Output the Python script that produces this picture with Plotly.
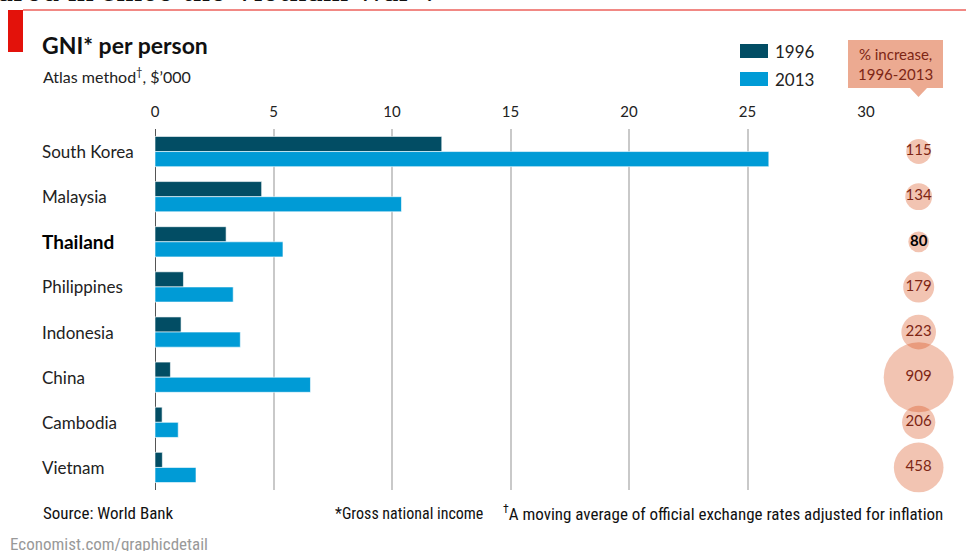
import numpy as np
import plotly.graph_objects as go

# ---------------- data ----------------
countries = ["South Korea", "Malaysia", "Thailand", "Philippines",
             "Indonesia", "China", "Cambodia", "Vietnam"]
years = ["1996", "2013"]
gni_1996 = [12.1, 4.5, 3.0, 1.2, 1.1, 0.65, 0.3, 0.31]
gni_2013 = [25.9, 10.4, 5.4, 3.3, 3.6, 6.56, 0.98, 1.73]
pct_increase = [115, 134, 80, 179, 223, 909, 206, 458]
x_ticks = [0, 5, 10, 15, 20, 25, 30]
highlight = "Thailand"

# ---------------- styling ----------------
W, H = 966, 551
ML, MR, MT, MB = 155, 5, 129, 61
PW, PH = W - ML - MR, H - MT - MB

def px(x):
    return (x - ML) / PW

def py(y):
    return (H - MB - y) / PH

C96 = "#024d64"
C13 = "#009bd6"
SALMON = "rgba(213,66,11,0.45)"
BOXCOL = "#ecaa91"
DARKRED = "#7d2615"
FONT = "Lato, 'Noto Sans', sans-serif"
FOOT = "'Liberation Sans Narrow', 'Arial Narrow', 'Roboto Condensed', Roboto, sans-serif"

fig = go.Figure()
fig.add_trace(go.Bar(y=countries, x=gni_1996, name=years[0], orientation="h",
                     marker=dict(color=C96, line=dict(color="white", width=0.6)),
                     showlegend=False, xaxis="x", yaxis="y"))
fig.add_trace(go.Bar(y=countries, x=gni_2013, name=years[1], orientation="h",
                     marker=dict(color=C13, line=dict(color="white", width=0.6)),
                     showlegend=False, xaxis="x", yaxis="y"))

sizes = 2.32 * np.sqrt(np.array(pct_increase, dtype=float))
texts = [f"<b>{v}</b>" if c == highlight else str(v) for c, v in zip(countries, pct_increase)]
tcolors = ["#000000" if c == highlight else DARKRED for c in countries]
fig.add_trace(go.Scatter(x=[0] * len(countries), y=countries, mode="markers+text",
                         marker=dict(size=sizes, sizemode="diameter", color=SALMON,
                                     line=dict(width=0)),
                         text=texts, textposition="middle center",
                         textfont=dict(family=FONT, size=15, color=tcolors),
                         cliponaxis=False, showlegend=False,
                         xaxis="x2", yaxis="y"))

n = len(countries)
fig.update_layout(
    width=W, height=H, autosize=False,
    margin=dict(l=ML, r=MR, t=MT, b=MB, autoexpand=False),
    paper_bgcolor="white", plot_bgcolor="white",
    barmode="group", bargap=0.33, bargroupgap=0,
    font=dict(family=FONT, color="#222"),
    xaxis=dict(domain=[0, 711 / PW], range=[0, 30], side="top", automargin=False,
               tickvals=x_ticks, ticktext=[str(t) for t in x_ticks],
               showgrid=True, gridcolor="#c9c9c9", gridwidth=1.5,
               zeroline=True, zerolinecolor="#555", zerolinewidth=1.2,
               ticks="", ticklabelstandoff=8,
               tickfont=dict(size=15, color="#222"), fixedrange=True),
    xaxis2=dict(domain=[0.895, 1.0], range=[-1, 1], visible=False, automargin=False,
                showgrid=False, zeroline=False),
    yaxis=dict(range=[n - 0.5, -0.5], showticklabels=False, showgrid=False,
               automargin=False, zeroline=False, ticks=""),
)

shapes = []
annotations = []

# red top line and block
shapes.append(dict(type="line", xref="paper", yref="paper", x0=px(23), x1=px(966),
                   y0=py(10), y1=py(10), line=dict(color="#e3120b", width=1)))
shapes.append(dict(type="rect", xref="paper", yref="paper", x0=px(8), x1=px(23),
                   y0=py(52), y1=py(10), fillcolor="#e3120b", line=dict(width=0)))

# clipped headline from the page above
annotations.append(dict(text="ared in since the Vietnam War\u201d.", xref="paper", yref="paper",
                        x=px(-5), y=py(9), xanchor="left", yanchor="bottom", showarrow=False,
                        font=dict(family="'DejaVu Serif', 'Liberation Serif', serif",
                                  size=27, color="#111")))

# title & subtitle
annotations.append(dict(text="<b>GNI* per person</b>", xref="paper", yref="paper",
                        x=px(40), y=py(45), xanchor="left", yanchor="middle", showarrow=False,
                        font=dict(family=FONT, size=23, color="#111")))
annotations.append(dict(text="Atlas method<sup>\u2020</sup>, $\u2019000", xref="paper", yref="paper",
                        x=px(41), y=py(75), xanchor="left", yanchor="middle", showarrow=False,
                        font=dict(family=FONT, size=16, color="#222")))

# category labels, left aligned
for c in countries:
    bold = c == highlight
    annotations.append(dict(text=f"<b>{c}</b>" if bold else c, xref="paper", yref="y",
                            x=px(40), y=c, xanchor="left", yanchor="middle", showarrow=False,
                            font=dict(family=FONT, size=19 if bold else 17,
                                      color="#000" if bold else "#222")))

# legend (manual)
for i, (name, col) in enumerate(zip(years, [C96, C13])):
    yc = 51 + 28 * i
    shapes.append(dict(type="rect", xref="paper", yref="paper", x0=px(740), x1=px(768),
                       y0=py(yc + 7), y1=py(yc - 7), fillcolor=col, line=dict(width=0)))
    annotations.append(dict(text=name, xref="paper", yref="paper", x=px(773), y=py(yc),
                            xanchor="left", yanchor="middle", showarrow=False,
                            font=dict(family=FONT, size=17, color="#222")))

# % increase box
shapes.append(dict(type="rect", xref="paper", yref="paper", x0=px(848), x1=px(943),
                   y0=py(88), y1=py(40), fillcolor=BOXCOL, line=dict(width=0)))
shapes.append(dict(type="path", xref="paper", yref="paper",
                   path=f"M {px(910)},{py(88)} L {px(927)},{py(88)} L {px(918.5)},{py(97)} Z",
                   fillcolor=BOXCOL, line=dict(width=0)))
annotations.append(dict(text="% increase,<br>1996-2013", xref="paper", yref="paper",
                        x=px(895.5), y=py(64), xanchor="center", yanchor="middle", showarrow=False,
                        font=dict(family=FONT, size=15, color=DARKRED)))

# footer
annotations.append(dict(text="Source: World Bank", xref="paper", yref="paper",
                        x=px(41), y=py(513), xanchor="left", yanchor="middle", showarrow=False,
                        font=dict(family=FOOT, size=17, color="#111")))
annotations.append(dict(text="*Gross national income", xref="paper", yref="paper",
                        x=px(333), y=py(513), xanchor="left", yanchor="middle", showarrow=False,
                        font=dict(family=FOOT, size=16, color="#111")))
annotations.append(dict(text="<sup>\u2020</sup>A moving average of official exchange rates adjusted for inflation",
                        xref="paper", yref="paper",
                        x=px(945), y=py(513), xanchor="right", yanchor="middle", showarrow=False,
                        font=dict(family=FOOT, size=17, color="#111")))
annotations.append(dict(text="Economist.com/graphicdetail", xref="paper", yref="paper",
                        x=px(8), y=py(544), xanchor="left", yanchor="middle", showarrow=False,
                        font=dict(family=FOOT, size=17, color="#999")))

fig.update_layout(shapes=shapes, annotations=annotations)
fig.write_html("out.html",
               config={"displayModeBar": False, "responsive": False},
               default_width="966px", default_height="551px",
               post_script="document.body.style.margin='0';document.body.style.overflow='hidden';")
